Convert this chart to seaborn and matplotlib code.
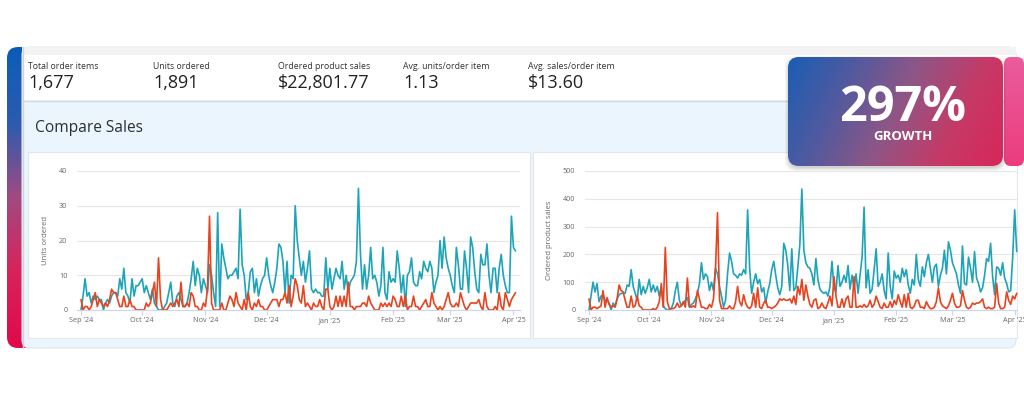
import numpy as np
import pandas as pd
import matplotlib
matplotlib.use("Agg")
import matplotlib.pyplot as plt
import matplotlib.dates as mdates
from matplotlib.patches import FancyBboxPatch, Rectangle
from matplotlib.colors import LinearSegmentedColormap
import seaborn as sns

# ---------------- data ----------------
start_date = "2024-09-01"

units_current = [
    0, 4, 9, 4, 5, 2, 4, 3, 4, 3,
    3, 0, 2, 3, 2, 4, 5, 5, 4, 9,
    6, 12, 5, 4, 2, 9, 4, 7, 7, 8,
    9, 5, 7, 5, 3, 6, 2, 1, 0, 0,
    0, 1, 2, 5, 8, 2, 1, 4, 5, 3,
    1, 1, 2, 5, 9, 14, 7, 12, 10, 5,
    9, 7, 5, 13, 10, 5, 1, 28, 1, 19,
    15, 12, 9, 10, 10, 11, 12, 9, 29, 13,
    10, 3, 5, 11, 12, 5, 9, 4, 7, 9,
    10, 15, 10, 7, 5, 8, 12, 19, 18, 14,
    5, 14, 2, 10, 9, 30, 20, 15, 10, 14,
    8, 12, 17, 6, 5, 6, 5, 5, 4, 4,
    15, 6, 12, 6, 9, 12, 10, 9, 14, 6,
    10, 5, 8, 9, 10, 14, 35, 16, 6, 13,
    6, 10, 18, 9, 10, 8, 4, 7, 18, 5,
    3, 11, 8, 9, 8, 17, 12, 5, 10, 1,
    10, 11, 15, 8, 7, 7, 11, 9, 14, 12,
    11, 14, 12, 5, 8, 10, 20, 12, 21, 15,
    12, 10, 7, 5, 18, 13, 6, 6, 17, 12,
    5, 21, 18, 11, 6, 5, 16, 13, 13, 19,
    10, 5, 12, 12, 5, 12, 16, 10, 7, 5,
    5, 27, 18, 17,
]

units_prior = [
    3, 0, 1, 1, 0, 1, 3, 5, 1, 3,
    2, 1, 2, 1, 3, 6, 5, 5, 3, 1,
    1, 4, 1, 1, 3, 1, 1, 0, 0, 0,
    0, 0, 2, 1, 2, 5, 8, 1, 15, 3,
    0, 0, 0, 1, 2, 1, 2, 3, 1, 8,
    1, 1, 2, 1, 5, 4, 1, 1, 0, 0,
    2, 1, 6, 27, 2, 0, 0, 0, 0, 2,
    0, 0, 2, 4, 3, 1, 5, 2, 1, 0,
    3, 0, 5, 1, 0, 2, 1, 3, 1, 1,
    0, 0, 1, 2, 3, 3, 3, 1, 3, 3,
    5, 2, 7, 1, 4, 9, 7, 3, 2, 7,
    1, 2, 1, 0, 2, 1, 1, 3, 1, 0,
    6, 6, 1, 0, 1, 4, 1, 4, 1, 4,
    1, 8, 1, 1, 0, 1, 1, 1, 2, 2,
    1, 4, 2, 1, 0, 0, 0, 2, 1, 2,
    1, 2, 1, 4, 3, 1, 1, 4, 1, 4,
    0, 1, 1, 4, 1, 1, 0, 1, 2, 3,
    1, 1, 5, 2, 1, 0, 1, 0, 1, 3,
    5, 2, 1, 1, 2, 1, 5, 3, 1, 0,
    1, 2, 2, 2, 2, 3, 1, 0, 5, 1,
    0, 0, 0, 1, 0, 5, 1, 0, 5, 3,
    1, 3, 4, 5,
]

sales_current = [
    0, 50, 100, 65, 95, 30, 50, 55, 35, 35,
    25, 0, 25, 15, 40, 55, 60, 60, 60, 90,
    85, 145, 85, 60, 35, 110, 55, 85, 60, 80,
    110, 65, 90, 65, 85, 50, 80, 15, 5, 0,
    0, 5, 25, 70, 100, 35, 15, 25, 35, 45,
    10, 20, 25, 40, 60, 95, 170, 110, 130, 120,
    70, 100, 70, 150, 130, 85, 50, 10, 35, 130,
    205, 175, 130, 125, 115, 130, 125, 145, 130, 360,
    150, 60, 100, 130, 95, 110, 65, 80, 25, 65,
    95, 145, 175, 125, 80, 55, 85, 240, 215, 160,
    70, 220, 70, 80, 155, 235, 435, 215, 170, 155,
    150, 130, 90, 185, 110, 75, 65, 60, 65, 50,
    85, 175, 80, 65, 160, 85, 100, 125, 100, 160,
    75, 125, 80, 130, 60, 125, 190, 370, 80, 145,
    60, 75, 145, 220, 85, 100, 130, 70, 40, 205,
    85, 40, 140, 115, 125, 100, 150, 120, 145, 90,
    60, 110, 90, 200, 110, 85, 155, 120, 170, 200,
    150, 100, 155, 165, 85, 125, 150, 215, 130, 245,
    215, 170, 150, 130, 90, 60, 230, 95, 90, 190,
    150, 100, 210, 115, 95, 65, 80, 125, 185, 175,
    240, 120, 55, 155, 150, 125, 170, 115, 95, 65,
    70, 190, 360, 210,
]

sales_prior = [
    40, 0, 10, 10, 5, 10, 15, 70, 10, 45,
    20, 10, 15, 10, 40, 90, 70, 65, 35, 10,
    10, 50, 10, 15, 50, 15, 10, 0, 0, 0,
    0, 0, 5, 0, 10, 30, 95, 10, 225, 30,
    5, 5, 5, 10, 25, 10, 15, 30, 10, 115,
    15, 10, 15, 10, 70, 40, 10, 10, 5, 5,
    20, 10, 40, 150, 350, 35, 5, 5, 5, 5,
    15, 5, 5, 30, 85, 30, 15, 55, 25, 10,
    5, 15, 60, 10, 80, 10, 5, 25, 35, 10,
    10, 5, 10, 15, 25, 40, 35, 40, 35, 35,
    40, 25, 50, 20, 85, 55, 110, 35, 90, 50,
    20, 10, 35, 40, 5, 10, 25, 10, 5, 25,
    50, 15, 120, 50, 10, 10, 40, 10, 40, 50,
    10, 10, 120, 10, 10, 15, 10, 20, 10, 15,
    35, 10, 20, 50, 30, 10, 5, 25, 10, 10,
    30, 10, 35, 20, 55, 30, 10, 55, 10, 60,
    10, 5, 15, 35, 35, 10, 10, 5, 30, 15,
    5, 5, 10, 30, 80, 30, 15, 10, 5, 15,
    35, 60, 25, 10, 10, 15, 70, 35, 10, 5,
    10, 25, 20, 25, 25, 30, 40, 10, 5, 10,
    5, 5, 10, 95, 25, 5, 5, 10, 65, 35,
    20, 50, 40, 60,
]

kpi_labels = ["Total order items", "Units ordered", "Ordered product sales",
              "Avg. units/order item", "Avg. sales/order item"]
kpi_values = ["1,677", "1,891", "$22,801.77", "1.13", "$13.60"]
section_title = "Compare Sales"
growth_value = "297%"
growth_label = "GROWTH"
units_ticks = [0, 10, 20, 30, 40]
sales_ticks = [0, 100, 200, 300, 400, 500]
units_title = "Units ordered"
sales_title = "Ordered product sales"

# ---------------- style ----------------
sns.set_theme(style="white")
plt.rcParams['font.family'] = ['Open Sans', 'DejaVu Sans']

BLUE = "#1ea4b8"
RED = "#e8431f"
W, H = 1024, 397

fig = plt.figure(figsize=(W / 100, H / 100), dpi=100)
fig.patch.set_facecolor("white")
bg = fig.add_axes([0, 0, 1, 1])
bg.axis("off")


def rbox(x0, y0, x1, y1, r, **kw):
    p = FancyBboxPatch((x0, y0), x1 - x0, y1 - y0,
                       boxstyle=f"round,pad=0,rounding_size={r}", **kw)
    bg.add_patch(p)
    return p


def grad(x0, y0, x1, y1, r, colors, horizontal=False, tilt=0.0, z=1):
    clip = rbox(x0, y0, x1, y1, r, facecolor="none", edgecolor="none", zorder=z)
    cmap = LinearSegmentedColormap.from_list("g", colors)
    yy, xx = np.mgrid[0:1:120j, 0:1:240j]
    val = (xx * (1 - tilt) + yy * tilt) if horizontal else (yy * (1 - tilt) + xx * tilt)
    im = bg.imshow(val, cmap=cmap, extent=(x0, x1, y1, y0), origin="upper",
                   aspect="auto", zorder=z, interpolation="bilinear")
    im.set_clip_path(clip)


# left gradient bar
grad(7, 47, 40, 348, 11,
     ["#0b5db8", "#2c5bb0", "#a14a82", "#d8235a", "#e1094b"], z=1)

# main panel
rbox(22, 47, 1016, 348, 8, facecolor="#eaf5fd", edgecolor="#dfe6ec", lw=0.8, zorder=2)
bg.add_patch(Rectangle((22, 47), 994, 8, facecolor="#f3f3f3", edgecolor="none", zorder=3))
bg.add_patch(Rectangle((23, 55), 993, 45, facecolor="white", edgecolor="none", zorder=3))
bg.plot([23, 1016], [100.5, 100.5], color="#d6d9dc", lw=1, zorder=4)
bg.plot([23, 23], [47, 348], color="#d0d4d8", lw=1, zorder=4)

# chart cards
bg.add_patch(Rectangle((28, 152), 502, 186, facecolor="white", edgecolor="#e1e7ed", lw=0.8, zorder=3))
bg.add_patch(Rectangle((533, 152), 484, 186, facecolor="white", edgecolor="#e1e7ed", lw=0.8, zorder=3))

# KPI texts
kpi_x = [28, 153, 278, 403, 528]
for x, lab, val in zip(kpi_x, kpi_labels, kpi_values):
    bg.text(x, 69, lab, fontsize=6.3, color="#333333", va="baseline", ha="left", zorder=5)
    bg.text(x, 88, val, fontsize=13, color="#222222", va="baseline", ha="left", zorder=5)

bg.text(35, 131.5, section_title, fontsize=11.2, color="#2b2f33", va="baseline", ha="left", zorder=5)

# growth badge: pink sliver, shadow, gradient
grad(1004, 57, 1024, 166, 7, ["#ea5c9d", "#ec3d7e"], z=6)
for i, a in enumerate([0.05, 0.05, 0.06, 0.07]):
    pad = 4 - i
    rbox(788 - pad + 1, 57 - pad + 3, 1003 + pad - 1, 166 + pad + 1, 12,
         facecolor="#333333", edgecolor="none", alpha=a, zorder=7)
grad(788, 57, 1003, 166, 11, ["#1b5db4", "#4f5aa0", "#8e5686", "#c53a67", "#d8265a"],
     horizontal=True, tilt=0.2, z=8)
bg.text(903, 121, growth_value, fontsize=35, fontweight="bold", color="white",
        ha="center", va="baseline", zorder=9)
bg.text(903, 139.5, growth_label, fontsize=9.5, fontweight="bold", color="white",
        ha="center", va="baseline", zorder=9)

bg.set_xlim(0, W)
bg.set_ylim(H, 0)

# ---------------- charts ----------------
dates = pd.date_range(start_date, periods=len(units_current), freq="D")
month_ticks = pd.date_range("2024-09-01", "2025-04-01", freq="MS")
t0 = pd.Timestamp(start_date)


def make_chart(x_left, x_right, px_per_day, x_first, cur, prior, yticks, ytitle, title_x):
    ax = fig.add_axes([x_left / W, (H - 310) / H, (x_right - x_left) / W, (310 - 171) / H])
    ax.patch.set_alpha(0)
    df = pd.DataFrame({"date": dates, "Current": cur, "Prior": prior})
    long = df.melt(id_vars="date", var_name="series", value_name="value")
    sns.lineplot(data=long, x="date", y="value", hue="series",
                 hue_order=["Current", "Prior"],
                 palette={"Current": BLUE, "Prior": RED},
                 linewidth=1.2, legend=False, ax=ax, clip_on=False)
    d_lo = (x_left - x_first) / px_per_day
    d_hi = (x_right - x_first) / px_per_day
    ax.set_xlim(t0 + pd.Timedelta(days=d_lo), t0 + pd.Timedelta(days=d_hi))
    ax.set_ylim(yticks[0], yticks[-1])
    ax.set_yticks(yticks)
    ax.set_xticks(month_ticks)
    ax.xaxis.set_major_formatter(mdates.DateFormatter("%b '%y"))
    ax.yaxis.grid(True, color="#e6e6e6", lw=0.8)
    ax.xaxis.grid(False)
    ax.set_axisbelow(True)
    for s in ["top", "right", "left"]:
        ax.spines[s].set_visible(False)
    ax.spines["bottom"].set_color("#ccd6eb")
    ax.spines["bottom"].set_linewidth(0.8)
    ax.tick_params(axis="x", length=3.5, width=0.8, color="#ccd6eb", labelsize=5.2,
                   labelcolor="#666666", pad=1.5, bottom=True)
    ax.tick_params(axis="y", length=0, labelsize=5.2, labelcolor="#666666", pad=7)
    ax.set_xlabel("")
    ax.set_ylabel(ytitle, fontsize=5.5, color="#666666")
    ax.yaxis.set_label_coords((title_x - x_left) / (x_right - x_left), 0.5)
    return ax


make_chart(77, 520, 2.04, 81, units_current, units_prior, units_ticks, units_title, 49)
make_chart(585, 1017, 2.008, 589, sales_current, sales_prior, sales_ticks, sales_title, 553)

fig.savefig("out.png", dpi=100, facecolor="white")
